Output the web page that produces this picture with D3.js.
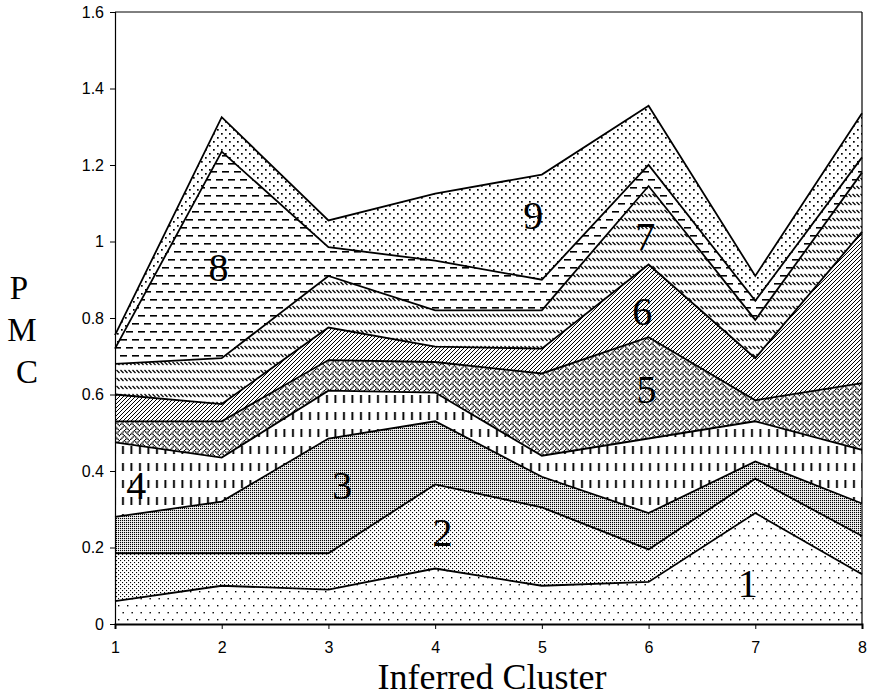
<!DOCTYPE html>
<html>
<head>
<meta charset="utf-8">
<script src="https://cdn.jsdelivr.net/npm/d3@7"></script>
<style>
  html, body { margin: 0; padding: 0; background: #fff; }
  svg { display: block; }
</style>
</head>
<body>
<svg id="chart" width="870" height="696"></svg>
<script>
// ---- data ----
const clusters = [1, 2, 3, 4, 5, 6, 7, 8];
const seriesNames = ["1", "2", "3", "4", "5", "6", "7", "8", "9"];
const s1 = [0.060, 0.100, 0.090, 0.145, 0.100, 0.110, 0.290, 0.130];
const s2 = [0.125, 0.085, 0.095, 0.220, 0.205, 0.085, 0.090, 0.100];
const s3 = [0.095, 0.135, 0.300, 0.165, 0.080, 0.095, 0.045, 0.085];
const s4 = [0.195, 0.115, 0.125, 0.075, 0.055, 0.195, 0.105, 0.140];
const s5 = [0.055, 0.095, 0.080, 0.080, 0.215, 0.265, 0.055, 0.175];
const s6 = [0.070, 0.045, 0.085, 0.040, 0.065, 0.190, 0.110, 0.395];
const s7 = [0.080, 0.120, 0.135, 0.095, 0.100, 0.205, 0.100, 0.155];
const s8 = [0.040, 0.540, 0.075, 0.130, 0.080, 0.055, 0.050, 0.040];
const s9 = [0.035, 0.090, 0.070, 0.175, 0.275, 0.155, 0.065, 0.115];
const yTickValues = [0, 0.2, 0.4, 0.6, 0.8, 1.0, 1.2, 1.4, 1.6];
const yTickLabels = ["0", "0.2", "0.4", "0.6", "0.8", "1", "1.2", "1.4", "1.6"];
// label anchor positions in data units (x cluster, y PMC)
const labelX = [6.93, 4.07, 3.13, 1.20, 5.98, 5.94, 5.97, 1.97, 4.92];
const labelY = [0.107, 0.240, 0.363, 0.363, 0.614, 0.818, 1.012, 0.931, 1.069];

const seriesValues = [s1, s2, s3, s4, s5, s6, s7, s8, s9];
const table = clusters.map((c, i) => {
  const row = { cluster: c };
  seriesNames.forEach((k, j) => row[k] = seriesValues[j][i]);
  return row;
});

// ---- layout ----
const svg = d3.select("#chart");
const x = d3.scaleLinear().domain([1, 8]).range([115, 862]);
const y = d3.scaleLinear().domain([0, 1.6]).range([624, 12]);

// ---- patterns ----
const defs = svg.append("defs");
function pat(id, w, h) {
  const p = defs.append("pattern").attr("id", id)
    .attr("patternUnits", "userSpaceOnUse").attr("width", w).attr("height", h);
  p.append("rect").attr("width", w).attr("height", h).attr("fill", "#fff");
  return p;
}
function dots(p, pts, s) {
  pts.forEach(([a, b]) => p.append("rect").attr("x", a).attr("y", b)
    .attr("width", s).attr("height", s).attr("fill", "#000"));
}
// 1: sparse dots
dots(pat("p1", 9, 14), [[1, 3], [5.5, 10]], 1.4);
// 2: medium-dense dots
dots(pat("p2", 4, 4), [[0, 0], [2, 2]], 1.1);
// 3: fine grey dot grid
dots(pat("p3", 2, 2), [[0, 0]], 1.15);
// 4: vertical dashes
let p = pat("p4", 8.5, 17);
p.append("rect").attr("x", 3).attr("y", 4).attr("width", 1.9).attr("height", 8).attr("fill", "#000");
// 5: weave
p = pat("p5", 10, 10);
const weaveBits = [0x11, 0x2a, 0x44, 0xa2, 0x11, 0x28, 0x44, 0x8a];
weaveBits.forEach((b, r) => {
  for (let c = 0; c < 8; c++) {
    if (b & (0x80 >> c)) {
      p.append("rect").attr("x", c * 1.25).attr("y", r * 1.25)
        .attr("width", 1.35).attr("height", 1.35).attr("fill", "#000");
    }
  }
});
// 6: diagonal lines /
p = pat("p6", 4, 4);
p.append("path").attr("d", "M-1,1 L1,-1 M0,4 L4,0 M3,5 L5,3").attr("stroke", "#000").attr("stroke-width", 1);
// 7: short back-slash dashes in rows
p = pat("p7", 4, 8);
p.append("path").attr("d", "M0.5,2 L3.5,5").attr("stroke", "#000").attr("stroke-width", 1.2);
// 8: horizontal dashes staggered
p = pat("p8", 12, 16);
p.append("rect").attr("x", 0).attr("y", 3).attr("width", 7).attr("height", 1.6).attr("fill", "#000");
p.append("rect").attr("x", 6).attr("y", 11).attr("width", 7).attr("height", 1.6).attr("fill", "#000");
p.append("rect").attr("x", -6).attr("y", 11).attr("width", 7).attr("height", 1.6).attr("fill", "#000");
// 9: medium dots
dots(pat("p9", 8, 8), [[1, 1], [5, 5]], 1.7);

// ---- stack ----
const stack = d3.stack().keys(seriesNames);
const layers = stack(table);

const area = d3.area()
  .x(d => x(d.data.cluster))
  .y0(d => y(d[0]))
  .y1(d => y(d[1]));
const topLine = d3.line()
  .x(d => x(d.data.cluster))
  .y(d => y(d[1]));

svg.append("g").selectAll("path").data(layers).join("path")
  .attr("d", area)
  .attr("fill", (d, i) => `url(#p${i + 1})`)
  .attr("stroke", "none");

svg.append("g").selectAll("path").data(layers).join("path")
  .attr("d", topLine)
  .attr("fill", "none")
  .attr("stroke", "#000")
  .attr("stroke-width", 1.8)
  .attr("stroke-linejoin", "miter");

// ---- frame ----
svg.append("line").attr("x1", x(1)).attr("x2", x(8)).attr("y1", y(1.6)).attr("y2", y(1.6))
  .attr("stroke", "#000").attr("stroke-width", 1);
svg.append("line").attr("x1", x(8)).attr("x2", x(8)).attr("y1", y(1.6)).attr("y2", y(0))
  .attr("stroke", "#000").attr("stroke-width", 1.2);

// ---- axes ----
const yAxis = d3.axisLeft(y).tickValues(yTickValues)
  .tickFormat((d, i) => yTickLabels[i]).tickSize(5).tickPadding(6);
const gy = svg.append("g").attr("transform", `translate(${x(1)},0)`).call(yAxis);
gy.attr("font-size", 16).attr("font-family", "Liberation Sans, Arial, sans-serif");
gy.select(".domain").attr("stroke", "#000").attr("stroke-width", 1.2);
gy.selectAll(".tick line").attr("stroke", "#000");
gy.selectAll("text").attr("fill", "#000");

const xAxis = d3.axisBottom(x).tickValues(clusters).tickFormat(d3.format("d"))
  .tickSize(5).tickPadding(13);
const gx = svg.append("g").attr("transform", `translate(0,${y(0)})`).call(xAxis);
gx.attr("font-size", 16).attr("font-family", "Liberation Sans, Arial, sans-serif");
gx.select(".domain").attr("stroke", "#000").attr("stroke-width", 2);
gx.selectAll(".tick line").attr("stroke", "#000");
gx.selectAll("text").attr("fill", "#000");

// ---- layer labels ----
svg.append("g").selectAll("text").data(seriesNames).join("text")
  .attr("x", (d, i) => x(labelX[i]))
  .attr("y", (d, i) => y(labelY[i]))
  .attr("text-anchor", "middle")
  .attr("dominant-baseline", "central")
  .attr("font-family", "Liberation Serif, Times New Roman, serif")
  .attr("font-size", 40)
  .attr("fill", "#000")
  .text(d => d);

// ---- axis titles ----
svg.append("text").attr("x", 492).attr("y", 689)
  .attr("text-anchor", "middle")
  .attr("font-family", "Liberation Serif, Times New Roman, serif")
  .attr("font-size", 36).attr("fill", "#000")
  .text("Inferred Cluster");

const ylab = ["P", "M", "C"];
const ylabX = [19, 22, 27];
const ylabY = [288, 330, 372];
svg.append("g").selectAll("text").data(ylab).join("text")
  .attr("x", (d, i) => ylabX[i]).attr("y", (d, i) => ylabY[i])
  .attr("text-anchor", "middle").attr("dominant-baseline", "central")
  .attr("font-family", "Liberation Serif, Times New Roman, serif")
  .attr("font-size", 33).attr("fill", "#000")
  .text(d => d);
</script>
</body>
</html>
